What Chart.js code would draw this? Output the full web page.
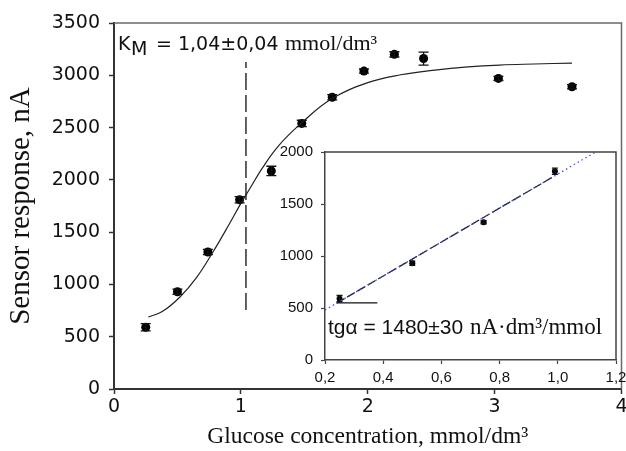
<!DOCTYPE html>
<html>
<head>
<meta charset="utf-8">
<script src="https://cdn.jsdelivr.net/npm/chart.js@4.4.1/dist/chart.umd.min.js"></script>
<style>
html, body { margin: 0; padding: 0; background: #fff; }
#wrap { position: relative; width: 626px; height: 451px; overflow: hidden; }
#mainChart { position: absolute; left: 0; top: 0; width: 626px; height: 451px; }
#insetChart { position: absolute; left: 260px; top: 140px; width: 366px; height: 260px; }
</style>
</head>
<body>
<div id="wrap">
<canvas id="mainChart" width="626" height="451"></canvas>
<canvas id="insetChart" width="366" height="260"></canvas>
</div>
<script>
// ---------- Main plot data ----------
const concentration = [0.25, 0.5, 0.74, 0.99, 1.24, 1.48, 1.72, 1.97, 2.21, 2.44, 3.03, 3.61];
const response = [590, 930, 1310, 1810, 2085, 2540, 2790, 3040, 3200, 3160, 2970, 2890];
const responseErr = [35, 25, 25, 30, 45, 30, 25, 20, 25, 62, 20, 20];

// fitted curve
const fitX = [0.27, 0.38, 0.52, 0.65, 0.78, 0.91, 1.0, 1.07, 1.17, 1.3, 1.47, 1.71, 2.0, 2.26, 2.53, 2.79, 3.04, 3.31, 3.61];
const fitY = [688, 740, 880, 1065, 1310, 1580, 1775, 1915, 2115, 2330, 2535, 2770, 2930, 3005, 3050, 3080, 3098, 3108, 3117];

// Km marker
const kmX = [1.04, 1.04];
const kmY = [755, 3126];

const mainXTicks = [0, 1, 2, 3, 4];
const mainYTicks = [0, 500, 1000, 1500, 2000, 2500, 3000, 3500];

// ---------- Inset data ----------
const insetConc = [0.25, 0.5, 0.745, 0.99];
const insetResp = [590, 930, 1325, 1815];
const insetErr = [30, 20, 15, 30];
const trendX = [0.2, 1.13];
const trendY = [481, 2000];
const linFitX = [0.24, 0.985];
const linFitY = [546, 1763];
const angleX = [0.24, 0.38];
const angleY = [550, 550];

const insetXTicks = [0.2, 0.4, 0.6, 0.8, 1.0, 1.2];
const insetYTicks = [0, 500, 1000, 1500, 2000];

const pts = (xs, ys) => xs.map((x, i) => ({ x, y: ys[i] }));

// Error bars
const errorBarPlugin = {
    id: 'errorBars',
    afterDatasetsDraw(chart) {
        const { ctx, scales: { x, y } } = chart;
        ctx.save();
        ctx.strokeStyle = '#111';
        ctx.lineWidth = 1.3;
        chart.data.datasets.forEach(ds => {
            if (!ds.errors) return;
            const cap = ds.capWidth || 4;
            ds.data.forEach((p, i) => {
                const e = ds.errors[i];
                const px = x.getPixelForValue(p.x);
                const top = y.getPixelForValue(p.y + e);
                const bot = y.getPixelForValue(p.y - e);
                ctx.beginPath();
                ctx.moveTo(px, top); ctx.lineTo(px, bot);
                ctx.moveTo(px - cap, top); ctx.lineTo(px + cap, top);
                ctx.moveTo(px - cap, bot); ctx.lineTo(px + cap, bot);
                ctx.stroke();
            });
        });
        ctx.restore();
    }
};

// Box around the plot area
const framePlugin = {
    id: 'frame',
    afterDraw(chart, args, opts) {
        const { ctx, chartArea: { left, right, top, bottom } } = chart;
        ctx.save();
        ctx.strokeStyle = opts.color || '#666';
        ctx.lineWidth = opts.width || 1.5;
        ctx.beginPath();
        ctx.moveTo(left, top); ctx.lineTo(right, top); ctx.lineTo(right, bottom);
        ctx.stroke();
        ctx.restore();
    }
};

// Free text annotations
const notesPlugin = {
    id: 'notes',
    afterDraw(chart, args, opts) {
        const { ctx } = chart;
        ctx.save();
        ctx.fillStyle = '#111';
        ctx.textBaseline = 'alphabetic';
        (opts.items || []).forEach(n => {
            ctx.font = n.font;
            ctx.fillText(n.text, n.x, n.y);
        });
        ctx.restore();
    }
};

function fixedAxis(w, h) {
    return scale => {
        if (w != null) { scale.width = w; scale.paddingTop = 0; scale.paddingBottom = 0; }
        if (h != null) { scale.height = h; scale.paddingLeft = 0; scale.paddingRight = 0; }
    };
}
const useTicks = list => scale => { scale.ticks = list.map(v => ({ value: v })); };

function initMain() {
    const el = document.getElementById('mainChart');
    new Chart(el, {
        type: 'line',
        data: {
            datasets: [
                {
                    data: pts(fitX, fitY),
                    borderColor: '#222', borderWidth: 1.2,
                    pointRadius: 0, tension: 0.4
                },
                {
                    data: pts(kmX, kmY),
                    borderColor: '#2b2b3a', borderWidth: 1.5,
                    borderDash: [17, 5], pointRadius: 0
                },
                {
                    data: pts(concentration, response),
                    errors: responseErr, capWidth: 5,
                    showLine: false,
                    pointRadius: 4.5,
                    pointBackgroundColor: '#000',
                    pointBorderWidth: 0
                }
            ]
        },
        options: {
            responsive: false,
            animation: false,
            layout: { padding: { top: 23, right: 1, left: 0, bottom: 0 } },
            plugins: {
                legend: { display: false },
                tooltip: { enabled: false },
                frame: { color: '#6a6a6a', width: 1.5 },
                notes: {
                    items: [
                        { text: 'K', x: 118, y: 50, font: '19px "DejaVu Sans"' },
                        { text: 'M', x: 131, y: 55, font: '19px "DejaVu Sans"' },
                        { text: '= 1,04±0,04', x: 156, y: 50, font: '19px "DejaVu Sans"' },
                        { text: 'mmol/dm³', x: 285, y: 50, font: '22px "Liberation Serif"' }
                    ]
                }
            },
            scales: {
                x: {
                    type: 'linear', min: 0, max: 4,
                    afterBuildTicks: useTicks(mainXTicks),
                    afterFit: fixedAxis(null, 62),
                    border: { color: '#333', width: 2 },
                    grid: { display: true, drawOnChartArea: false, tickLength: 5, tickColor: '#333', tickWidth: 1.5 },
                    ticks: { color: '#111', padding: 2, maxRotation: 0, font: { family: 'DejaVu Sans', size: 19 }, callback: v => String(v) },
                    title: {
                        display: true, text: 'Glucose concentration, mmol/dm³', color: '#111',
                        padding: { top: 0, bottom: 0 },
                        font: { family: 'Liberation Serif', size: 23.5 }
                    }
                },
                y: {
                    type: 'linear', min: 0, max: 3500,
                    afterBuildTicks: useTicks(mainYTicks),
                    afterFit: fixedAxis(114, null),
                    border: { color: '#333', width: 2 },
                    grid: { display: true, drawOnChartArea: false, tickLength: 5, tickColor: '#333', tickWidth: 1.5 },
                    ticks: { color: '#111', padding: 9, font: { family: 'DejaVu Sans', size: 19 }, callback: v => String(v) },
                    title: {
                        display: true, text: 'Sensor response, nA', color: '#111',
                        padding: { top: 4, bottom: 0 },
                        font: { family: 'Liberation Serif', size: 29 }
                    }
                }
            }
        },
        plugins: [errorBarPlugin, framePlugin, notesPlugin]
    });
}

function initInset() {
    const el = document.getElementById('insetChart');
    new Chart(el, {
        type: 'line',
        data: {
            datasets: [
                {
                    data: pts(trendX, trendY),
                    borderColor: '#3b4cf0', borderWidth: 1.3,
                    borderDash: [1.5, 3], pointRadius: 0
                },
                {
                    data: pts(linFitX, linFitY),
                    borderColor: '#222', borderWidth: 1.3,
                    borderDash: [9, 3], pointRadius: 0
                },
                {
                    data: pts(angleX, angleY),
                    borderColor: '#111', borderWidth: 1.2, pointRadius: 0
                },
                {
                    data: pts(insetConc, insetResp),
                    errors: insetErr, capWidth: 3,
                    showLine: false,
                    pointRadius: 3,
                    pointBackgroundColor: '#000',
                    pointBorderWidth: 0
                }
            ]
        },
        options: {
            responsive: false,
            animation: false,
            layout: { padding: { top: 12, right: 10, left: 0, bottom: 0 } },
            plugins: {
                legend: { display: false },
                tooltip: { enabled: false },
                frame: { color: '#444', width: 1.5 },
                notes: {
                    items: [
                        { text: 'tgα = 1480±30', x: 68, y: 194, font: '21px "Liberation Sans"' },
                        { text: 'nA·dm³/mmol', x: 210, y: 194, font: '23px "Liberation Serif"' }
                    ]
                }
            },
            scales: {
                x: {
                    type: 'linear', min: 0.2, max: 1.2,
                    afterBuildTicks: useTicks(insetXTicks),
                    afterFit: fixedAxis(null, 40),
                    border: { color: '#444', width: 1.5 },
                    grid: { display: true, drawOnChartArea: false, tickLength: 4, tickColor: '#444', tickWidth: 1.2 },
                    ticks: {
                        color: '#111', padding: 5, maxRotation: 0,
                        font: { family: 'Liberation Sans', size: 15 },
                        callback: v => v.toFixed(1).replace('.', ',')
                    }
                },
                y: {
                    type: 'linear', min: 0, max: 2000,
                    afterBuildTicks: useTicks(insetYTicks),
                    afterFit: fixedAxis(65, null),
                    border: { color: '#444', width: 1.5 },
                    grid: { display: true, drawOnChartArea: false, tickLength: 4, tickColor: '#444', tickWidth: 1.2 },
                    ticks: { color: '#111', padding: 8, font: { family: 'Liberation Sans', size: 15 }, callback: v => String(v) }
                }
            }
        },
        plugins: [errorBarPlugin, framePlugin, notesPlugin]
    });
}

initMain();
initInset();
</script>
</body>
</html>
